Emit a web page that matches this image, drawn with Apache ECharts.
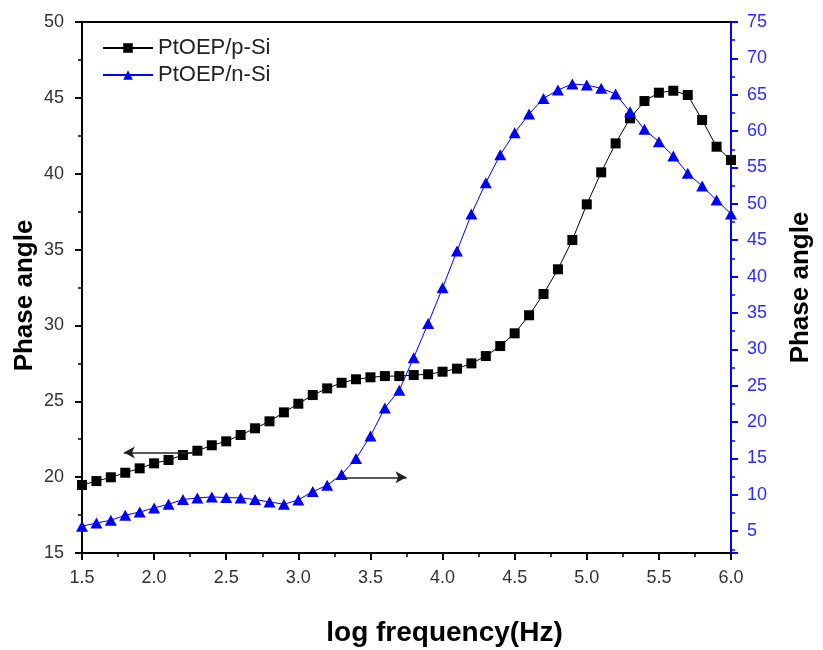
<!DOCTYPE html>
<html>
<head>
<meta charset="utf-8">
<script src="https://cdn.jsdelivr.net/npm/echarts@6/dist/echarts.min.js"></script>
<style>html,body{margin:0;padding:0;background:#fff}#c{width:823px;height:650px}</style>
</head>
<body>
<div id="c"></div>
<script>
const logFreq = [1.5,1.6,1.7,1.8,1.9,2.0,2.1,2.2,2.3,2.4,2.5,2.6,2.7,2.8,2.9,3.0,3.1,3.2,3.3,3.4,3.5,3.6,3.7,3.8,3.9,4.0,4.1,4.2,4.3,4.4,4.5,4.6,4.7,4.8,4.9,5.0,5.1,5.2,5.3,5.4,5.5,5.6,5.7,5.8,5.9,6.0];
const pSi = [19.48,19.74,19.99,20.29,20.58,20.91,21.13,21.46,21.74,22.10,22.36,22.78,23.22,23.68,24.27,24.84,25.41,25.85,26.22,26.45,26.58,26.66,26.66,26.73,26.78,26.95,27.15,27.50,27.98,28.64,29.48,30.67,32.07,33.70,35.63,37.98,40.09,42.00,43.65,44.79,45.34,45.47,45.19,43.54,41.78,40.90];
const nSi = [5.67,6.13,6.50,7.19,7.64,8.19,8.70,9.35,9.57,9.71,9.62,9.57,9.35,9.02,8.70,9.30,10.45,11.31,12.80,14.98,18.10,21.95,24.38,28.85,33.56,38.45,43.52,48.59,52.90,56.75,59.77,62.35,64.50,65.65,66.47,66.33,65.88,65.10,62.66,60.24,58.54,56.57,54.19,52.44,50.52,48.59];
const seriesNames = ['PtOEP/p-Si','PtOEP/n-Si'];
const leftArrow = [[2.27,21.63],[1.79,21.63]];
const rightArrow = [[3.31,19.99],[3.75,19.99]];

const FF = '"Liberation Sans", Arial, sans-serif';
const FN = '"Liberation Sans Narrow", "Arial Narrow", "Liberation Sans", Arial, sans-serif';
const chart = echarts.init(document.getElementById('c'), null, {renderer:'canvas'});
chart.setOption({
  animation:false,
  backgroundColor:'#fff',
  grid:{left:82,right:92,top:22,bottom:97,outerBoundsMode:'none',show:true,borderColor:'#000',borderWidth:2,backgroundColor:'transparent'},
  legend:{
    orient:'vertical',left:97,top:32,itemWidth:50,itemHeight:12,itemGap:5,
    textStyle:{fontSize:22,color:'#222',fontFamily:FF},
    data:seriesNames
  },
  xAxis:{
    type:'value',min:1.5,max:6.0,interval:0.5,
    name:'log frequency(Hz)',nameLocation:'middle',nameGap:66,
    nameTextStyle:{fontSize:28,fontWeight:'bold',color:'#000',fontFamily:FF,padding:[0,0,0,76]},
    axisLine:{show:true,lineStyle:{color:'#000',width:2}},
    axisTick:{show:true,length:7,lineStyle:{color:'#000',width:2}},
    minorTick:{show:true,splitNumber:2,length:4,lineStyle:{color:'#000',width:1.5}},
    axisLabel:{fontSize:18,color:'#333',fontFamily:FN,margin:16,formatter:v=>v.toFixed(1)},
    splitLine:{show:false}
  },
  yAxis:[{
    type:'value',position:'left',min:15,max:50,interval:5,
    name:'Phase angle',nameLocation:'middle',nameRotate:90,nameGap:44,nameMoveOverlap:false,
    nameTextStyle:{fontSize:26,fontWeight:'bold',color:'#000',fontFamily:FF,padding:[0,16,0,0]},
    axisLine:{show:true,lineStyle:{color:'#000',width:2}},
    axisTick:{show:true,length:7,lineStyle:{color:'#000',width:2}},
    minorTick:{show:true,splitNumber:2,length:4,lineStyle:{color:'#000',width:1.5}},
    axisLabel:{fontSize:18,color:'#333',fontFamily:FN,margin:18},
    splitLine:{show:false}
  },{
    type:'value',position:'right',min:2,max:75,splitNumber:15,
    name:'Phase angle',nameLocation:'middle',nameRotate:90,nameGap:57,
    nameTextStyle:{fontSize:26,fontWeight:'bold',color:'#000',fontFamily:FF},
    axisLine:{show:true,lineStyle:{color:'#0000ff',width:2}},
    axisTick:{show:true,length:7,lineStyle:{color:'#0000ff',width:2}},
    minorTick:{show:true,splitNumber:2,length:4,lineStyle:{color:'#0000ff',width:1.5}},
    axisLabel:{fontSize:18,color:'#2b2bff',fontFamily:FN,margin:16,formatter:v=>(v%5===0?String(v):'')},
    splitLine:{show:false}
  }],
  series:[{
    name:seriesNames[0],type:'line',yAxisIndex:0,
    data:logFreq.map((x,i)=>[x,pSi[i]]),
    symbol:'rect',symbolSize:10,
    lineStyle:{color:'#000',width:1},itemStyle:{color:'#000'},
    emphasis:{disabled:true},
    markLine:{
      silent:true,symbol:['none','arrow'],symbolSize:[9,11],
      lineStyle:{color:'#222',width:1.5,type:'solid'},label:{show:false},
      emphasis:{disabled:true},
      data:[
        [{coord:leftArrow[0]},{coord:leftArrow[1]}],
        [{coord:rightArrow[0]},{coord:rightArrow[1]}]
      ]
    }
  },{
    name:seriesNames[1],type:'line',yAxisIndex:1,
    data:logFreq.map((x,i)=>[x,nSi[i]]),
    symbol:'triangle',symbolSize:[12,11],
    lineStyle:{color:'#0000ff',width:1},itemStyle:{color:'#0000ff'},
    emphasis:{disabled:true}
  }]
});
</script>
</body>
</html>
